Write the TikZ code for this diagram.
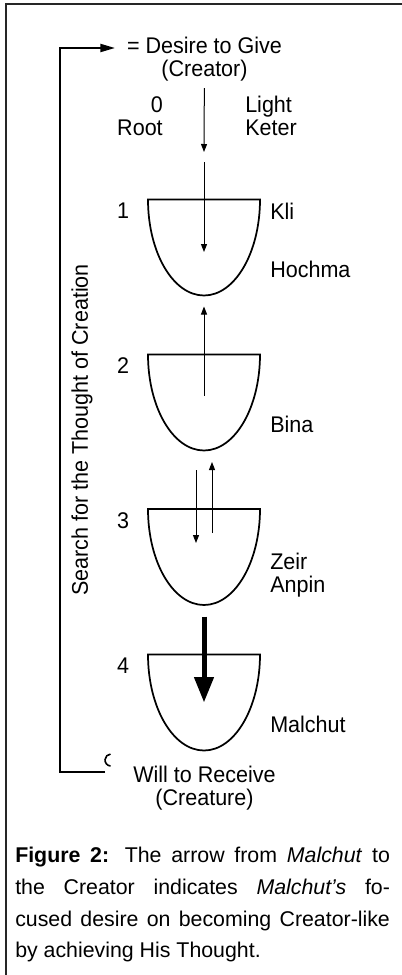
\documentclass[tikz,border=0pt]{standalone}
\usepackage{fontspec}
\setmainfont{Liberation Sans}
\newfontfamily\narrowsans[FakeStretch=0.95]{Liberation Sans}
\usetikzlibrary{arrows.meta,calc}

\tikzset{
  every text/.style={inner sep=0pt},
  vessel/.style={line width=1.3pt},
  ray/.style={->, line width=0.75pt},
  big ray/.style={-{Triangle[length=19pt, width=14pt]}, line width=3.75pt},
  loop line/.style={line width=1.5pt},
  frame line/.style={black!85, line width=0.9pt}
}

\begin{document}
\begin{tikzpicture}[x=0.75pt, y=-0.75pt, >={Triangle[length=6pt, width=4.5pt]},
  font=\narrowsans\fontsize{17pt}{17.5pt}\selectfont]

\useasboundingbox (0,0) rectangle (402,975);
\draw [frame line] (402,4) -- (6,4) -- (6,975);

\node [every text/.try, align=center] (give) at (204.5,59) {= Desire to Give\\(Creator)};
\node [every text/.try, align=right, anchor=east] (root) at (163,116) {0\\Root};
\node [every text/.try, align=left, anchor=west] (keter) at (245,116) {Light\\Keter};

\foreach \y [count=\i] in {199.5,354.5,509,654.5} {
  \coordinate (cup-\i) at (204,\y);
  \draw [vessel] (148,\y) -- (260,\y)
    arc [start angle=0, end angle=180, x radius=56, y radius=96] -- cycle;
}

\foreach \i in {1,...,4}
  \node [every text/.try] (num-\i) at ($(cup-\i)+(-81,11.5)$) {\i};

\node [every text/.try, anchor=west] (kli) at ($(cup-1)+(66,11.5)$) {Kli};

\foreach \l/\d [count=\i] in {Hochma/70,Bina/70,{Zeir\\Anpin}/66,Malchut/69.5}
  \node [every text/.try, anchor=west, align=left] (name-\i) at ($(cup-\i)+(66,\d)$) {\l};

\coordinate (keter-tip) at ($(cup-1)+(0,-47.5)$);
\draw [ray, shorten <=5pt] (give) -- (keter-tip);
\draw [ray] (cup-1) ++(0,-37.5) -- ++(0,90);
\draw [ray] (cup-2) ++(0,41) -- ++(0,-89);
\draw [ray] (cup-3) ++(-8,-39) -- ++(0,73);
\draw [ray] (cup-3) ++(8,24) -- ++(0,-71);
\draw [big ray] (cup-4) ++(0,-38) -- ++(0,86);

\node [every text/.try, rotate=90] (search) at (82,430) {Search for the Thought of Creation};

\node [every text/.try, align=center] (will) at (204.5,788) {Will to Receive\\(Creature)};

\coordinate (recv) at (105,772);
\coordinate (give-in) at (115,48);
\draw [loop line, ->, >={Triangle[length=11pt, width=6pt]}] (recv) -- ++(-45,0) |- (give-in);
\draw [line width=1.2pt] (recv) ++(5.5,-6) arc [start angle=95, end angle=265, radius=6];

\node [every text/.try, anchor=north west, text width=281pt, align=justify,
  font=\normalfont\fontsize{16pt}{23.8pt}\selectfont] (caption) at (15,847)
  {\textbf{Figure 2:} The arrow from \textit{Malchut} to\linebreak
   the Creator indicates \textit{Malchut's} fo-\linebreak
   cused desire on becoming Creator-like\linebreak
   by achieving His Thought.};

\end{tikzpicture}
\end{document}
